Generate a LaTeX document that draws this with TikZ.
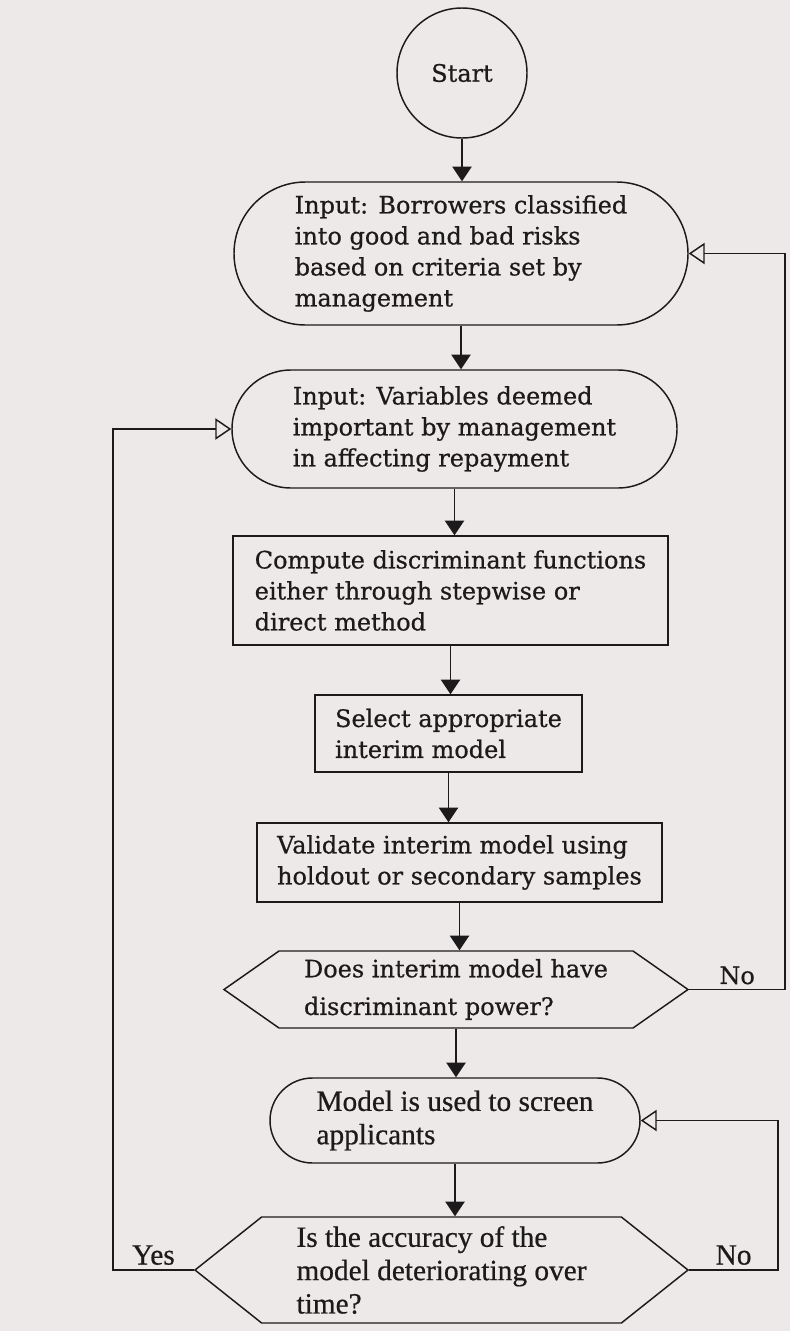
\documentclass[tikz,border=0pt]{standalone}
\usepackage{fontspec}
\usepackage{tikz}
\usetikzlibrary{arrows.meta, shapes.misc, shapes.symbols}

\newfontfamily\bookface[FakeBold=0.6]{DejaVu Serif}
\newfontfamily\timesface[FakeBold=0.6]{Liberation Serif}
\definecolor{paper}{RGB}{237,233,233}
\definecolor{ink}{RGB}{28,26,26}

\begin{document}
\begin{tikzpicture}[x=0.75pt, y=-0.75pt, line width=1.1pt,
    every node/.style={text=ink},
    book/.style={font=\bookface\fontsize{18}{23.25}\selectfont},
    times/.style={font=\timesface\fontsize{22}{25}\selectfont},
    terminal/.style={circle, draw=ink, minimum size=97.5pt, inner sep=0pt, book},
    inputbox/.style={rounded rectangle, draw=ink, align=left, inner sep=0pt},
    procbox/.style={rectangle, draw=ink, align=left, inner sep=0pt, book},
    decision/.style={signal, signal to=east and west, draw=ink, align=left, inner sep=0pt},
    flow/.style={draw=ink, -{Triangle[length=11pt, width=14.5pt]}},
    back/.style={draw=ink, -{Triangle[open, length=12pt, width=16pt]}}]

    % the scanned page
    \fill[paper] (0,0) rectangle (790,1331);
    \useasboundingbox (0,0) rectangle (790,1331);

    % Draw the steps
    \node[terminal] at (462, 73) (start) {Start};
    \node[inputbox, book, minimum width=340.5pt, minimum height=107.25pt] at (461, 253.5) (borrowers)
        {Input: Borrowers classified\\into good and bad risks\\based on criteria set by\\management};
    \node[inputbox, book, minimum width=333.75pt, minimum height=88.5pt] at (454.5, 429) (variables)
        {Input: Variables deemed\\important by management\\in affecting repayment};
    \node[procbox, minimum width=326.25pt, minimum height=81.75pt] at (450.5, 590.5) (compute)
        {Compute discriminant functions\\either through stepwise or\\direct method};
    \node[procbox, minimum width=200.25pt, minimum height=57.75pt] at (448.5, 733.5) (select)
        {Select appropriate\\interim model};
    \node[procbox, minimum width=303.75pt, minimum height=59.25pt] at (459.5, 862.5) (validate)
        {Validate interim model using\\holdout or secondary samples};
    \node[decision, book, signal pointer angle=70, minimum width=348pt, minimum height=57.75pt] at (456, 989.5) (power)
        {Does interim model have\\[5pt]discriminant power?};
    \node[inputbox, times, minimum width=277.5pt, minimum height=63.75pt] at (455, 1120.5) (screen)
        {Model is used to screen\\applicants};
    \node[decision, times, signal pointer angle=77, minimum width=369.75pt, minimum height=79.5pt] at (441.5, 1270) (accuracy)
        {Is the accuracy of the\\model deteriorating over\\time?};

    % corners of the loops
    \coordinate (outer) at (785, 0);
    \coordinate (inner) at (778, 0);
    \coordinate (leftside) at (113, 0);

    % Connect the steps with arrows
    \draw[flow] (start.south) -- (start.south |- borrowers.north);
    \draw[flow] (borrowers.south) -- (borrowers.south |- variables.north);
    \draw[flow] (variables.south) -- (variables.south |- compute.north);
    \draw[flow] (compute.south) -- (compute.south |- select.north);
    \draw[flow] (select.south) -- (select.south |- validate.north);
    \draw[flow] (validate.south) -- (validate.south |- power.north);
    \draw[flow] (power.south) -- (power.south |- screen.north);
    \draw[flow] (screen.south) -- (screen.south |- accuracy.north);

    \draw[back] (power.east) -- (power.east -| outer) node[midway, above, book] {No}
        |- (borrowers.east);
    \draw[back] (accuracy.east) -- (accuracy.east -| inner) node[midway, above, times] {No}
        |- (screen.east);
    \draw[back] (accuracy.west) -- (accuracy.west -| leftside) node[midway, above, times] {Yes}
        |- (variables.west);
\end{tikzpicture}
\end{document}
